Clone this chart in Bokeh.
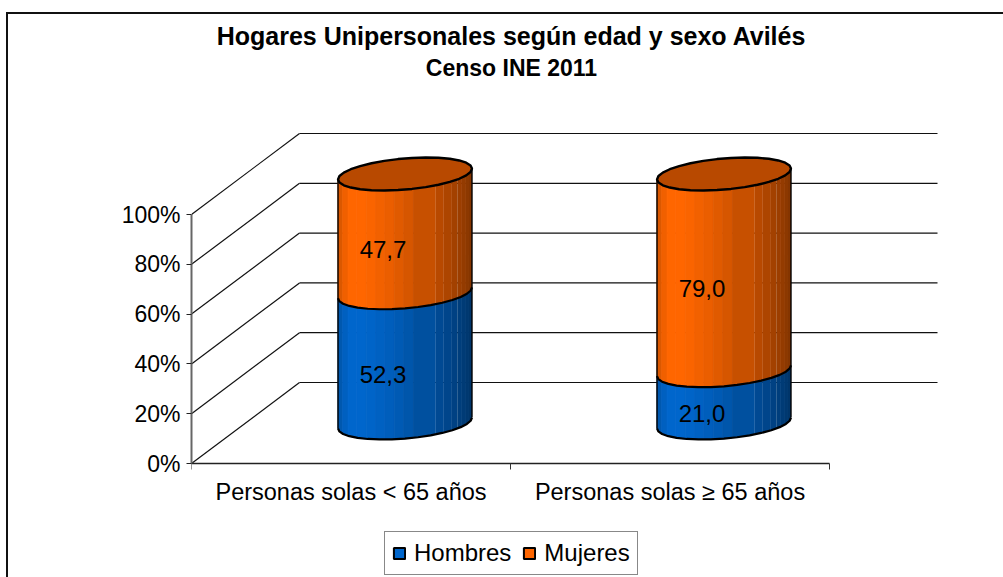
import math
from bokeh.plotting import figure
from bokeh.models import (Range1d, FixedTicker, Legend, LegendItem, ColumnDataSource)
from bokeh.core.properties import value
from bokeh.embed import file_html
from bokeh.resources import INLINE

# ---------- data ----------
categories = ["Personas solas < 65 años", "Personas solas ≥ 65 años"]
hombres = [52.3, 21.0]
mujeres = [47.7, 79.0]
labels_h = ["52,3", "21,0"]
labels_m = ["47,7", "79,0"]
y_ticks = [0, 20, 40, 60, 80, 100]
series_names = ["Hombres", "Mujeres"]
series_colors = [(0, 102, 204), (255, 102, 0)]
title_lines = ["Hogares Unipersonales según edad y sexo Avilés", "Censo INE 2011"]

facet_edges = [-1, -.93, -.85, -.72, -.58, -.44, -.3, -.16, -.02, .12, .46, .58, .70, .78, .85, .91, .955, 1]
facet_shade = [.86, .94, 1.0, 1.0, .98, .95, .92, .88, .84, .78, .72, .68, .64, .61, .58, .55, .52]
top_shade = .72

FONT = "Liberation Sans"
PX_X, PX_Y = 319.0, 2.49
DX, DY = 108 / PX_X, 81 / PX_Y
R_PX, B_PX, C_PX = 67.0, 22.0, 16.5
PHI = math.asin(B_PX / R_PX)


def shaded(rgb, k):
    return "#%02x%02x%02x" % tuple(int(round(c * k)) for c in rgb)


def pt(theta, cx, cy):
    x = R_PX * math.cos(theta)
    y = C_PX * math.sin(theta + PHI)
    return cx + x / PX_X, cy + y / PX_Y


def front_arc(cx, cy, f0, f1, n=3):
    a0 = 2 * math.pi - math.acos(f0)
    a1 = 2 * math.pi - math.acos(f1)
    return [pt(a0 + (a1 - a0) * i / n, cx, cy) for i in range(n + 1)]


W, H = 1003, 577
LEFT, ZERO_Y = 191, 463
border_css = ("linear-gradient(#111,#111) 6px 12px/2px 100% no-repeat,"
              "linear-gradient(#111,#111) 6px 12px/100% 2px no-repeat")
p = figure(width=W, height=H, output_backend="svg", toolbar_location=None,
           frame_width=W - LEFT, frame_height=H,
           x_range=Range1d(0, (W - LEFT) / PX_X),
           y_range=Range1d(-(H - ZERO_Y) / PX_Y, ZERO_Y / PX_Y),
           min_border_left=LEFT, min_border_right=0, min_border_top=0, min_border_bottom=0,
           background_fill_color=None, border_fill_color=None, outline_line_color=None,
           styles={"background": border_css})
p.grid.visible = False
p.xaxis.visible = False

ya = p.yaxis[0]
ya.bounds = (0, 100)
ya.ticker = FixedTicker(ticks=y_ticks)
ya.major_label_overrides = {v: f"{v}%" for v in y_ticks}
ya.major_label_text_font = FONT
ya.major_label_text_font_size = "23px"
ya.major_label_text_color = "black"
ya.major_label_standoff = 6
ya.major_tick_out = 5
ya.major_tick_in = 0
ya.major_tick_line_color = "#222222"
ya.minor_tick_line_color = None
ya.axis_line_color = "#666666"
ya.axis_line_width = 2

# category axis at 0 %
cat_ticks = [0, 1, 2]
p.segment(x0=[0], y0=[0], x1=[2], y1=[0], line_color="#222222", line_width=1.5)
p.segment(x0=cat_ticks, y0=[0] * 3, x1=cat_ticks, y1=[-6 / PX_Y] * 3, line_color="#333333", line_width=1)
p.text(x=[0.5, 1.5], y=[-28 / PX_Y] * 2, text=categories, text_font=value(FONT), text_font_size="23.5px",
       text_align="center", text_baseline="middle", text_color="black")

n = len(y_ticks)
p.segment(x0=[0] * n, y0=y_ticks, x1=[DX] * n, y1=[v + DY for v in y_ticks],
          line_color="#111111", line_width=1.2)
p.segment(x0=[DX] * n, y0=[v + DY for v in y_ticks],
          x1=[2 + DX] * n, y1=[v + DY for v in y_ticks],
          line_color="#111111", line_width=1.2)

strip_x, strip_y, strip_c, strip_a = [], [], [], []
top_x, top_y, outline_x, outline_y, seam_x, seam_y = [], [], [], [], [], []
text_x, text_y, text_s = [], [], []
for i in range(len(categories)):
    cx = i + 0.5 + DX / 2
    base = DY / 2
    h, m = hombres[i], mujeres[i]
    levels = [(base, base + h, series_colors[0]), (base + h, base + h + m, series_colors[1])]
    for lo, hi, col in levels:
        for j, shade in enumerate(facet_shade):
            low = front_arc(cx, lo, facet_edges[j], facet_edges[j + 1])
            up = front_arc(cx, hi, facet_edges[j], facet_edges[j + 1])
            pts = low + up[::-1]
            strip_x.append([q[0] for q in pts])
            strip_y.append([q[1] for q in pts])
            strip_c.append(shaded(col, shade))
            strip_a.append(1.0 if facet_edges[j] < 0.1 else 0.0)
    ring = [pt(2 * math.pi * k / 30, cx, base + h + m) for k in range(31)]
    top_x.append([q[0] for q in ring])
    top_y.append([q[1] for q in ring])
    for lvl in (base, base + h):
        arc = front_arc(cx, lvl, -1, 1, n=16)
        seam_x.append([q[0] for q in arc])
        seam_y.append([q[1] for q in arc])
    for f in (math.pi, 2 * math.pi):
        q0 = pt(f, cx, base)
        q1 = pt(f, cx, base + h + m)
        outline_x.append([q0[0], q1[0]])
        outline_y.append([q0[1], q1[1]])
    for lo, hi, s in ((base, base + h, labels_h[i]), (base + h, base + h + m, labels_m[i])):
        text_x.append(cx - B_PX / PX_X)
        text_y.append((lo + hi) / 2 - C_PX / PX_Y)
        text_s.append(s)

p.patches(xs="x", ys="y", fill_color="c", line_color="c", line_alpha="a", line_width=0.8,
          source=ColumnDataSource(dict(x=strip_x, y=strip_y, c=strip_c, a=strip_a)))
p.multi_line(outline_x, outline_y, line_color="black", line_width=1.4)
p.multi_line(seam_x, seam_y, line_color="black", line_width=2.2)
p.patches(top_x, top_y, fill_color=shaded(series_colors[1], top_shade), line_color="black", line_width=2.4)
p.text(x="x", y="y", text="t", text_font=value(FONT), text_font_size="24px", text_align="center",
       text_baseline="middle", text_color="black",
       source=ColumnDataSource(dict(x=text_x, y=text_y, t=text_s)))

# title
title_x = (511 - LEFT) / PX_X
p.text(x=[title_x], y=[(ZERO_Y - 35) / PX_Y], text=[title_lines[0]], text_font=value(FONT),
       text_font_style="bold", text_font_size="25px", text_align="center", text_baseline="middle", text_color="black")
p.text(x=[title_x], y=[(ZERO_Y - 67) / PX_Y], text=[title_lines[1]], text_font=value(FONT),
       text_font_style="bold", text_font_size="23px", text_align="center", text_baseline="middle", text_color="black")

# legend keys: quads that lie left of the visible x range, used only for their swatches
rs = [p.quad(left=[-2], right=[-1], top=[1], bottom=[0], fill_color=shaded(c, 1), line_color="black", line_width=2)
      for c in series_colors]
legend = Legend(items=[LegendItem(label=n_, renderers=[r], index=0) for n_, r in zip(series_names, rs)],
                orientation="horizontal", location=(384 - LEFT, 2),
                label_text_font=FONT, label_text_font_size="24px", label_text_color="black",
                glyph_width=14, glyph_height=14, label_standoff=8, spacing=11, padding=7, margin=0,
                border_line_color="#111111", border_line_width=1.5, background_fill_alpha=1)
p.add_layout(legend, "center")

open("out.html", "w").write(file_html(p, INLINE))
